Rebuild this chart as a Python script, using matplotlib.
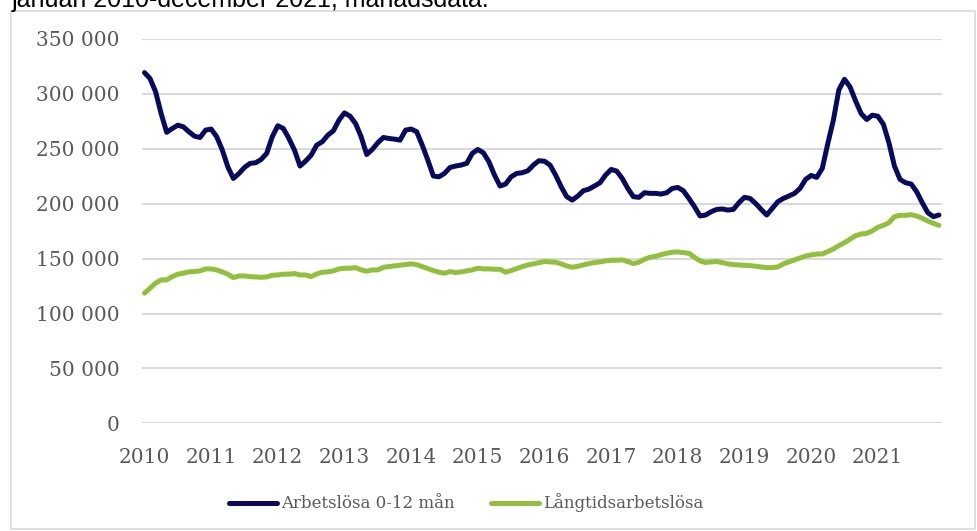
import matplotlib
matplotlib.use("Agg")
import matplotlib.pyplot as plt
from matplotlib.patches import Rectangle
import numpy as np

years = list(range(2010, 2022))
months_per_year = 12

# Arbetslösa 0-12 mån (monthly, Jan 2010 - Dec 2021)
arbetslosa_0_12 = [
    319400, 314000, 302000, 282000, 265000, 268500, 271500, 270000, 265500, 261500, 260300, 267000,
    268000, 261000, 249000, 233600, 223000, 227500, 233000, 236700, 237300, 240300, 245800, 261000,
    271000, 268500, 259400, 248800, 234300, 238800, 244200, 253300, 256400, 262400, 266400, 276000,
    282700, 279700, 273000, 261000, 244800, 249400, 255500, 260300, 259400, 258800, 257900, 267000,
    268000, 265500, 253300, 239700, 225200, 224500, 227600, 233000, 234300, 235200, 236700, 245800,
    249400, 246400, 238200, 226100, 216100, 217900, 224500, 227600, 228200, 230000, 235200, 239100,
    238700, 235200, 226100, 215500, 206400, 203300, 207000, 211800, 213300, 216100, 219100, 226100,
    231200, 229700, 223000, 213900, 206400, 205800, 210000, 209400, 209400, 208800, 210000, 213900,
    214800, 211800, 204800, 197300, 188800, 189700, 192700, 194800, 195200, 194200, 194800, 200900,
    205800, 204800, 200300, 194800, 189700, 195800, 201800, 204800, 207000, 209400, 213900, 222100,
    225700, 224000, 232100, 254800, 276100, 303900, 313300, 306400, 293600, 282100, 276700, 280600,
    279700, 272400, 255500, 234200, 222100, 219100, 217900, 210900, 200900, 191800, 188200, 189700,
]

# Långtidsarbetslösa (monthly, Jan 2010 - Dec 2021)
langtidsarbetslosa = [
    118500, 123000, 127600, 130600, 130600, 133600, 135800, 136700, 137900, 138200, 138800, 140600,
    140600, 139700, 137900, 135800, 132700, 134200, 134200, 133600, 133300, 133000, 133300, 134800,
    135100, 135800, 135800, 136400, 135100, 135100, 133600, 136000, 137600, 137900, 138800, 140600,
    141200, 141200, 141800, 139700, 138500, 139700, 139700, 142100, 142700, 143300, 143900, 144500,
    145200, 144500, 142700, 140900, 139100, 137600, 136700, 138200, 137300, 137900, 138800, 139700,
    141200, 140600, 140600, 140300, 140300, 137600, 139100, 140900, 142700, 144200, 145200, 146100,
    147300, 147000, 146700, 145200, 143300, 142100, 143000, 144200, 145500, 146400, 147000, 147900,
    148500, 148500, 148800, 147300, 145500, 146700, 149400, 151200, 152100, 153600, 154800, 155800,
    156100, 155500, 154800, 151200, 147900, 146400, 147000, 147300, 146400, 145200, 144500, 144200,
    143900, 143600, 143000, 142400, 141800, 141800, 142400, 145200, 147000, 148800, 150600, 152400,
    153300, 154200, 154200, 156400, 158800, 161800, 164500, 167600, 170900, 172400, 173000, 175200,
    178500, 180300, 182700, 188200, 189400, 189400, 190000, 188800, 186700, 184200, 182100, 180300,
]

series_labels = ["Arbetslösa 0-12 mån", "Långtidsarbetslösa"]
title_text = "januari 2010-december 2021, månadsdata."
y_ticks = [0, 50000, 100000, 150000, 200000, 250000, 300000, 350000]

W, H = 978, 531
fig = plt.figure(figsize=(W / 100, H / 100), dpi=100)
fig.patch.set_facecolor("white")

# chart border
fig.patches.append(Rectangle((11 / W, 1 - 529 / H), (975 - 11) / W, (529 - 11) / H,
                             transform=fig.transFigure, fill=False,
                             edgecolor="#d9d9d9", linewidth=1.2))

# title (partly cut off at the top, as in the source image)
fig.text(12 / W, 1 - 7 / H, title_text, fontsize=18, family="Liberation Sans",
         color="black", ha="left", va="baseline")

left, right = 141.7 / W, 941.7 / W
bottom, top = 1 - 423.3 / H, 1 - 39 / H
ax = fig.add_axes([left, bottom, right - left, top - bottom])

x = np.arange(len(arbetslosa_0_12))
navy = "#0a0a5c"
green = "#92c03e"
ax.plot(x, arbetslosa_0_12, color=navy, linewidth=3.6, solid_capstyle="round",
        solid_joinstyle="round", label=series_labels[0], zorder=3)
ax.plot(x, langtidsarbetslosa, color=green, linewidth=3.6, solid_capstyle="round",
        solid_joinstyle="round", label=series_labels[1], zorder=3)

ax.set_xlim(-0.5, len(x) - 0.5)
ax.set_ylim(0, 350000)
ax.set_yticks(y_ticks)
ax.set_yticklabels([f"{v:,}".replace(",", " ") for v in y_ticks])
ax.set_xticks([i * months_per_year for i in range(len(years))])
ax.set_xticklabels([str(y) for y in years])

for s in ax.spines.values():
    s.set_visible(False)
ax.grid(axis="y", color="#d9d9d9", linewidth=1.5, zorder=0)
ax.set_axisbelow(True)
ax.tick_params(axis="both", length=0, labelsize=14.5, labelcolor="#595959")
ax.tick_params(axis="y", pad=16)
ax.tick_params(axis="x", pad=18)
for lbl in ax.get_xticklabels() + ax.get_yticklabels():
    lbl.set_family("DejaVu Serif")

leg = fig.legend(loc="center", bbox_to_anchor=(466 / W, 1 - 503 / H), ncol=2,
                 frameon=False, handlelength=2.9, handletextpad=0.2,
                 columnspacing=2.2, prop={"family": "DejaVu Serif", "size": 12})
for t in leg.get_texts():
    t.set_color("#595959")

fig.savefig("out.png", dpi=100)
